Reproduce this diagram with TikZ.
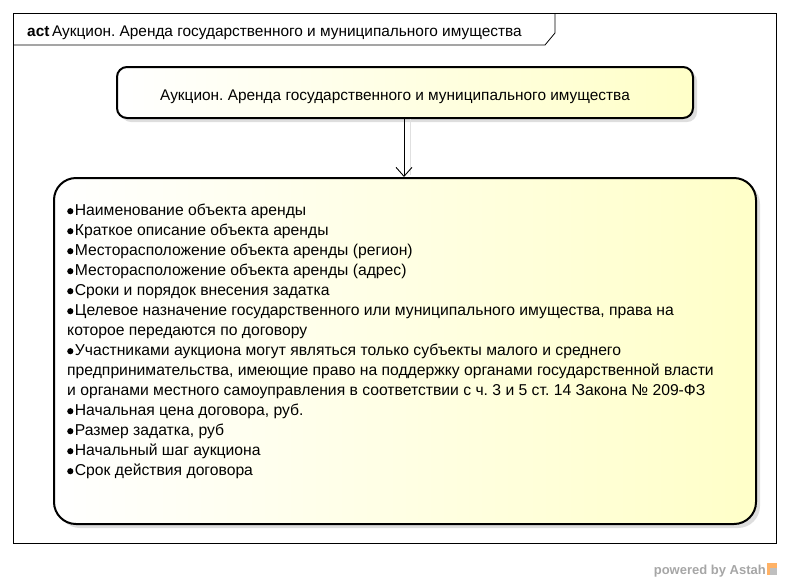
\documentclass[tikz,border=0pt]{standalone}
\usepackage{fontspec}
\setmainfont{Liberation Sans}
\usetikzlibrary{arrows.meta}
\frenchspacing
\definecolor{noteyellow}{RGB}{255,255,200}
\newcommand{\blt}{\tikz[baseline=-4.8pt]\fill (3.2pt,-0.3pt) circle (3.1pt) (7.8pt,0);}
\tikzset{
  txt/.style={font=\fontsize{15.4}{20}\selectfont, inner sep=0pt},
  bigtxt/.style={font=\fontsize{15.7}{20}\selectfont, inner sep=0pt},
  actbox/.style={draw=black, line width=2pt, rounded corners=10pt, left color=white, right color=noteyellow},
  bigbox/.style={draw=black, line width=2pt, rounded corners=22pt, left color=white, right color=noteyellow},
  shadowbox/.style={fill=black!13, draw=none},
  flow/.style={draw=black, line width=0.9pt, -{Straight Barb[length=9pt,width=16pt,line width=0.9pt]}},
}
\begin{document}
\begin{tikzpicture}[x=1pt,y=-1pt]
\useasboundingbox (0,0) rectangle (789,582);
% frame
\draw[line width=0.8pt] (13,13) rectangle (776,543);
\draw[line width=0.8pt] (13,45) -- (545,45) -- (555,33) -- (555,13);
\node[txt, anchor=base west] (title) at (27,36) {\textbf{act}\,Аукцион. Аренда государственного и муниципального имущества};
% top node
\fill[shadowbox, rounded corners=10pt] (121,71) rectangle (697,122);
\node[actbox, minimum width=576pt, minimum height=51pt, inner sep=0pt] (top) at (405,92.5) {};
\node[txt, anchor=base] (toplabel) at (395,100) {Аукцион. Аренда государственного и муниципального имущества};
% big node
\fill[shadowbox, rounded corners=22pt] (58,182) rectangle (760,528);
\node[bigbox, minimum width=702pt, minimum height=346pt, inner sep=0pt] (big) at (405,351) {};
\node[bigtxt, anchor=north west, align=left] (biglabel) at (67,204) {%
\blt Наименование объекта аренды\\
\blt Краткое описание объекта аренды\\
\blt Месторасположение объекта аренды (регион)\\
\blt Месторасположение объекта аренды (адрес)\\
\blt Сроки и порядок внесения задатка\\
\blt Целевое назначение государственного или муниципального имущества, права на\\
которое передаются по договору\\
\blt Участниками аукциона могут являться только субъекты малого и среднего\\
предпринимательства, имеющие право на поддержку органами государственной власти\\
и органами местного самоуправления в соответствии с ч. 3 и 5 ст. 14 Закона № 209-ФЗ\\
\blt Начальная цена договора, руб.\\
\blt Размер задатка, руб\\
\blt Начальный шаг аукциона\\
\blt Срок действия договора};
% connector
\coordinate (a1) at (top.south -| 404,0);
\coordinate (a2) at (big.north -| 404,0);
\draw[black!12, line width=1pt] ([xshift=6pt]a1) -- ([xshift=6pt,yshift=2pt]a2);
\draw[flow] (a1) -- (a2);
% watermark
\node[anchor=base east, inner sep=0pt, font=\fontsize{13}{15}\selectfont\bfseries, text=black!35] (pw) at (766,574) {powered by Astah};
\fill[orange!60] (767,563) rectangle (777,575);
\fill[black!25] (770,568) rectangle (777,575);
\end{tikzpicture}
\end{document}
